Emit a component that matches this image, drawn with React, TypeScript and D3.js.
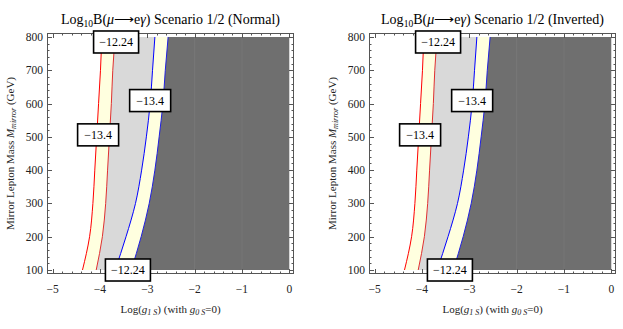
import React from 'react';
import * as d3 from 'd3';

// contour data: log10(g1S) along each contour edge at each mass
const mass = [100, 200, 300, 400, 500, 600, 700, 800];
const s1Low = [-4.37, -4.22, -4.15, -4.11, -4.07, -4.03, -3.99, -3.96]; // red, -13.4
const s1High = [-4.08, -3.95, -3.88, -3.84, -3.8, -3.76, -3.73, -3.68]; // red, -12.24
const s2Low = [-3.68, -3.45, -3.25, -3.12, -3.02, -2.94, -2.89, -2.84]; // blue, -13.4
const s2High = [-3.34, -3.13, -2.96, -2.84, -2.75, -2.67, -2.62, -2.56]; // blue, -12.24

const xTicks = [-5, -4, -3, -2, -1, 0];
const yTicks = [100, 200, 300, 400, 500, 600, 700, 800];

const labelText = ['\u221212.24', '\u221213.4', '\u221213.4', '\u221212.24'];
const labelX = [-3.66, -2.94, -4.04, -3.41];
const labelM = [785, 609, 506, 100];

const panels = ['Normal', 'Inverted'];

const serif = 'Liberation Serif, Times New Roman, serif';

function Panel({ left, name }: { left: number; name: string }) {
  const top = 33;
  const right = left + 247;
  const bottom = 274;

  const x = d3.scaleLinear().domain([-5.12, 0.1]).range([left, right]);
  const y = d3.scaleLinear().domain([88, 812]).range([bottom, top]);

  const rows = mass.map((m, i) => ({ m, a: s1Low[i], b: s1High[i], c: s2Low[i], d: s2High[i] }));
  const band = (f0, f1) =>
    d3
      .area<any>()
      .y((d) => y(d.m))
      .x0((d) => x(f0(d)))
      .x1((d) => x(f1(d)))
      .curve(d3.curveMonotoneY)(rows);
  const edge = (f) =>
    d3
      .line<any>()
      .y((d) => y(d.m))
      .x((d) => x(f(d)))
      .curve(d3.curveMonotoneY)(rows);

  const minorX = d3.range(-5, 0.001, 0.2);
  const minorY = d3.range(100, 800.1, 20);

  const cx = (left + right) / 2;
  const cy = (top + bottom) / 2;

  return (
    <g>
      <path d={band((d) => d.a, (d) => d.b)} fill="#ffffdf" />
      <path d={band((d) => d.b, (d) => d.c)} fill="#d9d9d9" />
      <path d={band((d) => d.c, (d) => d.d)} fill="#ffffdf" />
      <path d={band((d) => d.d, () => 0)} fill="#6f6f6f" />
      {[-2, -1].map((v) => (
        <line key={v} x1={x(v)} x2={x(v)} y1={y(800)} y2={y(100)} stroke="#777" strokeWidth={1} />
      ))}
      <path d={edge((d) => d.a)} fill="none" stroke="#ff0000" strokeWidth={1} />
      <path d={edge((d) => d.b)} fill="none" stroke="#e03030" strokeWidth={1} />
      <path d={edge((d) => d.c)} fill="none" stroke="#0000ff" strokeWidth={1} />
      <path d={edge((d) => d.d)} fill="none" stroke="#2020e0" strokeWidth={1} />

      {/* frame */}
      <rect x={left + 0.5} y={top + 0.5} width={right - left - 1} height={bottom - top - 1} fill="none" stroke="#555" />
      {minorX.map((v, i) => {
        const major = Math.abs(v - Math.round(v)) < 1e-6;
        const len = major ? 5 : 2.5;
        const px = Math.round(x(v)) + 0.5;
        return (
          <g key={'x' + i} stroke="#555">
            <line x1={px} x2={px} y1={bottom} y2={bottom - len} />
            <line x1={px} x2={px} y1={top} y2={top + len} />
          </g>
        );
      })}
      {minorY.map((v, i) => {
        const major = v % 100 === 0;
        const len = major ? 5 : 2.5;
        const py = Math.round(y(v)) + 0.5;
        return (
          <g key={'y' + i} stroke="#555">
            <line x1={left} x2={left + len} y1={py} y2={py} />
            <line x1={right} x2={right - len} y1={py} y2={py} />
          </g>
        );
      })}
      {xTicks.map((v) => (
        <text key={v} x={x(v)} y={bottom + 19} textAnchor="middle" fontFamily={serif} fontSize={11.5} fill="#222">
          {v < 0 ? '\u2212' + Math.abs(v) : v}
        </text>
      ))}
      {yTicks.map((v) => (
        <text key={v} x={left - 4} y={y(v) + 4} textAnchor="end" fontFamily={serif} fontSize={11.5} fill="#222">
          {v}
        </text>
      ))}

      {/* contour labels */}
      {labelText.map((t, i) => {
        const w = t.length > 5 ? 45 : 41;
        const h = 22;
        const lx = x(labelX[i]);
        const ly = y(labelM[i]);
        return (
          <g key={'l' + i}>
            <rect x={lx - w / 2} y={ly - h / 2} width={w} height={h} fill="#fff" stroke="#000" strokeWidth={1.6} />
            <text x={lx} y={ly + 4} textAnchor="middle" fontFamily={serif} fontSize={12} fill="#000">
              {t}
            </text>
          </g>
        );
      })}

      <text x={cx} y={24} textAnchor="middle" fontFamily={serif} fontSize={14} fill="#000">
        Log<tspan dy={3} fontSize={9.5}>10</tspan>
        <tspan dy={-3}>B(</tspan>
        <tspan fontStyle="italic">μ</tspan>⟶e<tspan fontStyle="italic">γ</tspan>) Scenario 1/2 ({name})
      </text>
      <text x={cx} y={313} textAnchor="middle" fontFamily={serif} fontSize={11} fill="#222">
        Log(<tspan fontStyle="italic">g</tspan>
        <tspan dy={2} fontSize={8} fontStyle="italic">1 S</tspan>
        <tspan dy={-2}>) (with </tspan>
        <tspan fontStyle="italic">g</tspan>
        <tspan dy={2} fontSize={8} fontStyle="italic">0 S</tspan>
        <tspan dy={-2}>=0)</tspan>
      </text>
      <text
        transform={`translate(${left - 33},${cy}) rotate(-90)`}
        textAnchor="middle"
        fontFamily={serif}
        fontSize={11}
        fill="#222"
      >
        Mirror Lepton Mass <tspan fontStyle="italic">M</tspan>
        <tspan dy={2} fontSize={8} fontStyle="italic">mirror</tspan>
        <tspan dy={-2}> (GeV)</tspan>
      </text>
    </g>
  );
}

export default function App() {
  return (
    <svg
      width={623}
      height={329}
      style={{ position: 'absolute', left: 0, top: 0, background: '#fff' }}
    >
      {panels.map((p, i) => (
        <Panel key={p} name={p} left={i === 0 ? 47 : 369} />
      ))}
    </svg>
  );
}
